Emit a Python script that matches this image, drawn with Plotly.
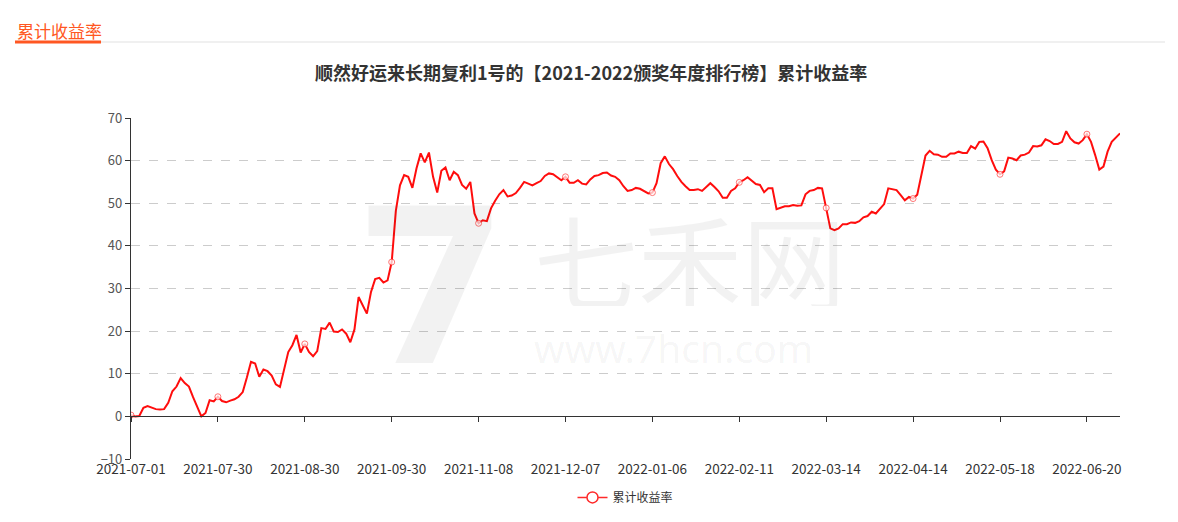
import plotly.graph_objects as go

# ---- data ----
tick_labels = ["2021-07-01", "2021-07-30", "2021-08-30", "2021-09-30", "2021-11-08",
               "2021-12-07", "2022-01-06", "2022-02-11", "2022-03-14", "2022-04-14",
               "2022-05-18", "2022-06-20"]
tick_step = 21
series_name = "累计收益率"
returns = [
    0.3, 0.0, 0.1, 2.0, 2.4, 2.0, 1.7, 1.6, 1.7, 3.2,
    5.9, 7.0, 9.0, 7.8, 7.0, 4.5, 2.2, 0.0, 0.8, 3.8,
    3.5, 4.6, 3.6, 3.3, 3.7, 4.0, 4.6, 5.7, 9.1, 12.8,
    12.4, 9.3, 11.0, 10.6, 9.6, 7.5, 6.9, 11.2, 15.1, 16.7,
    19.1, 15.0, 17.0, 15.1, 14.1, 15.3, 20.7, 20.5, 22.0, 19.9,
    19.8, 20.4, 19.4, 17.4, 20.4, 28.0, 26.1, 24.1, 29.2, 32.2,
    32.5, 31.4, 31.9, 36.2, 48.2, 54.2, 56.6, 56.2, 53.6, 58.2,
    61.7, 59.6, 61.9, 56.2, 52.5, 57.6, 58.4, 55.4, 57.4, 56.6,
    54.3, 53.4, 55.0, 47.6, 45.3, 46.0, 45.8, 48.8, 50.6, 52.1,
    53.1, 51.6, 51.8, 52.4, 53.6, 55.0, 54.6, 54.2, 54.7, 55.2,
    56.4, 57.0, 56.8, 56.0, 55.4, 56.2, 54.8, 54.8, 55.4, 54.6,
    54.4, 55.6, 56.4, 56.6, 57.1, 57.2, 56.5, 56.2, 55.4, 54.0,
    52.9, 53.1, 53.6, 53.4, 52.8, 52.3, 52.5, 54.7, 59.4, 61.0,
    59.2, 58.0, 56.4, 55.0, 54.0, 53.1, 53.1, 53.3, 52.9, 53.8,
    54.7, 53.8, 52.8, 51.3, 51.3, 52.9, 53.5, 54.9, 55.4, 56.1,
    55.3, 54.5, 54.3, 52.6, 53.5, 53.5, 48.6, 48.9, 49.3, 49.3,
    49.6, 49.4, 49.5, 52.1, 52.9, 53.1, 53.6, 53.5, 48.9, 44.1,
    43.7, 44.1, 45.1, 45.1, 45.5, 45.4, 45.8, 46.7, 47.0, 48.0,
    47.6, 48.8, 49.8, 53.5, 53.3, 53.1, 51.9, 50.7, 51.5, 51.1,
    52.0, 57.0, 61.2, 62.3, 61.5, 61.4, 60.9, 60.9, 61.7, 61.7,
    62.1, 61.8, 61.8, 63.4, 62.8, 64.4, 64.5, 62.9, 60.1, 57.9,
    56.8, 57.5, 60.7, 60.5, 60.1, 61.2, 61.4, 61.9, 63.4, 63.3,
    63.6, 65.0, 64.6, 63.9, 63.9, 64.4, 66.9, 65.2, 64.3, 64.0,
    64.8, 66.2, 64.4, 61.3, 57.9, 58.6, 62.1, 64.4, 65.4, 66.4,
]
y_ticks = [-10, 0, 10, 20, 30, 40, 50, 60, 70]

# ---- layout geometry (page pixels; page body has an 8px margin) ----
OFF = 8
PAGE_W, PAGE_H = 1178, 522
W, H = PAGE_W - 2 * OFF, PAGE_H
L, R, T, B = 131 - OFF, 1120 - OFF, 118 - OFF, 458.6 - OFF
FONT = "Noto Sans CJK SC, Noto Sans, sans-serif"
RED = "#ff0d0d"

def px(xp):
    return (xp - OFF - L) / (R - L)

def py(yp):
    return (B - (yp - OFF)) / (B - T)

idx = list(range(len(returns)))
tick_idx = [i * tick_step for i in range(len(tick_labels))]
sizes = [6 if i in tick_idx else 0 for i in idx]

fig = go.Figure()
fig.add_trace(go.Scatter(
    x=idx, y=returns, name=series_name, mode="lines+markers", showlegend=False,
    line=dict(color=RED, width=2),
    marker=dict(size=sizes, color="white", line=dict(color="#ff3a3a", width=1)),
    xaxis="x", yaxis="y",
))
# legend entry (line with hollow circle)
fig.add_trace(go.Scatter(
    x=[None], y=[None], name=series_name, mode="lines+markers",
    line=dict(color="#ff2a2a", width=1.5),
    marker=dict(size=11, color="white", line=dict(color="#ff2a2a", width=1.5)),
    xaxis="x2", yaxis="y", hoverinfo="skip",
))

y_lo, y_hi = y_ticks[0], y_ticks[-1]
zero_pos = (0 - y_lo) / (y_hi - y_lo)

fig.update_layout(
    width=W, height=H,
    margin=dict(l=L, r=W - R, t=T, b=H - B),
    paper_bgcolor="white", plot_bgcolor="white",
    font=dict(family=FONT, size=12, color="#333"),
    showlegend=True,
    legend=dict(orientation="h", x=0.5, xanchor="center", y=py(497), yanchor="middle",
                itemsizing="trace", font=dict(size=12, color="#333")),
    xaxis=dict(range=[0, len(returns) - 1], tickmode="array", tickvals=tick_idx,
               ticktext=tick_labels, showgrid=False, zeroline=False, showline=False,
               ticks="", tickfont=dict(size=13.5, color="#333")),
    xaxis2=dict(range=[0, len(returns) - 1], overlaying="x", anchor="free",
                position=zero_pos, tickmode="array", tickvals=tick_idx,
                showticklabels=False, showgrid=False, zeroline=False,
                showline=True, linecolor="#333", linewidth=1.2,
                ticks="outside", ticklen=5, tickcolor="#333", tickwidth=1),
    yaxis=dict(range=[y_lo, y_hi], tickmode="array", tickvals=y_ticks,
               showgrid=True, gridcolor="#cccccc", griddash="dash", gridwidth=1,
               zeroline=False, showline=True, linecolor="#333", linewidth=1.2,
               ticks="outside", ticklen=5, tickcolor="#333",
               tickfont=dict(size=13, color="#555")),
    annotations=[
        dict(text="累计收益率", xref="paper", yref="paper", x=px(15), y=py(31),
             xanchor="left", yanchor="middle", showarrow=False,
             font=dict(size=17, color="#ff5722", family=FONT)),
        dict(text="顺然好运来长期复利1号的【2021-2022颁奖年度排行榜】累计收益率",
             xref="paper", yref="paper", x=px(591), y=py(72),
             xanchor="center", yanchor="middle", showarrow=False,
             font=dict(size=18, color="#333", family=FONT, weight="bold")),
        dict(text="七禾网", xref="paper", yref="paper", x=px(690), y=py(258),
             xanchor="center", yanchor="middle", showarrow=False, height=96,
             font=dict(size=104, color="rgba(0,0,0,0.05)", family=FONT)),
        dict(text="www.7hcn.com", xref="paper", yref="paper", x=px(673), y=py(347),
             xanchor="center", yanchor="middle", showarrow=False, height=32,
             font=dict(size=39, color="rgba(0,0,0,0.05)", family="Noto Sans, sans-serif")),
        dict(text="7", xref="paper", yref="paper", x=px(430), y=py(283),
             xanchor="center", yanchor="middle", showarrow=False, height=160,
             font=dict(size=240, color="rgba(0,0,0,0.05)", family="Noto Sans, sans-serif",
                       weight="bold")),
    ],
    shapes=[
        dict(type="line", xref="paper", yref="paper", x0=px(101), x1=px(1165),
             y0=py(42), y1=py(42), line=dict(color="#ebebeb", width=1.5)),
        dict(type="rect", xref="paper", yref="paper", x0=px(15), x1=px(101),
             y0=py(43.5), y1=py(40.5), line=dict(width=0), fillcolor="#ff5722"),
    ],
)

fig.write_html("out.html")
